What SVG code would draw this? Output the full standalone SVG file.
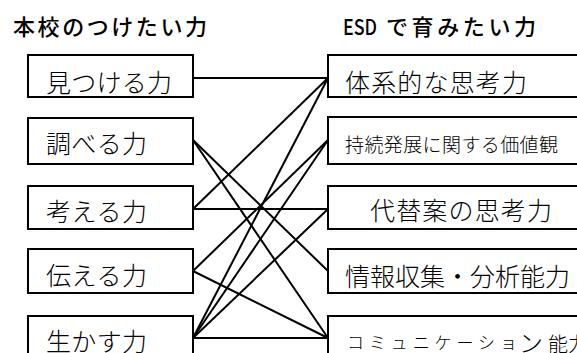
<svg xmlns="http://www.w3.org/2000/svg" width="577" height="353" viewBox="0 0 577 353">
  <style>
    .box { fill: #ffffff; stroke: #000000; stroke-width: 2; }
    .title { font-family: "Noto Sans CJK JP", "Noto Sans", sans-serif; font-size: 22px; font-weight: 500; fill: #000; }
    .lbl { font-family: "Noto Sans CJK JP", "Noto Sans", sans-serif; font-size: 25px; font-weight: 300; fill: #000; }
    .conn line { stroke: #000000; stroke-width: 2; }
  </style>
  <rect width="577" height="353" fill="#ffffff"/>

  <text id="title-left" class="title" x="13" y="35" textLength="194">本校のつけたい力</text>
  <text id="title-right" class="title" y="35"><tspan x="343" textLength="34" lengthAdjust="spacingAndGlyphs">ESD</tspan><tspan x="386" textLength="150">で育みたい力</tspan></text>

  <g id="connectors" class="conn">
    <line x1="193" y1="78" x2="328" y2="78"/>
    <line x1="193" y1="140" x2="328" y2="271"/>
    <line x1="193" y1="140" x2="328" y2="338"/>
    <line x1="193" y1="209" x2="328" y2="78"/>
    <line x1="193" y1="209" x2="328" y2="209"/>
    <line x1="193" y1="271" x2="328" y2="140"/>
    <line x1="193" y1="271" x2="328" y2="338"/>
    <line x1="193" y1="338" x2="328" y2="78"/>
    <line x1="193" y1="338" x2="328" y2="140"/>
    <line x1="193" y1="338" x2="328" y2="209"/>
    <line x1="193" y1="338" x2="328" y2="338"/>
  </g>

  <g id="left-1">
    <rect class="box" x="28" y="55" width="165" height="42"/>
    <text class="lbl" x="46" y="92" textLength="126">見つける力</text>
  </g>
  <g id="left-2">
    <rect class="box" x="28" y="118" width="165" height="46"/>
    <text class="lbl" x="46" y="153" textLength="101">調べる力</text>
  </g>
  <g id="left-3">
    <rect class="box" x="28" y="186" width="165" height="43"/>
    <text class="lbl" x="46" y="221" textLength="101">考える力</text>
  </g>
  <g id="left-4">
    <rect class="box" x="28" y="249" width="165" height="44"/>
    <text class="lbl" x="46" y="285" textLength="101">伝える力</text>
  </g>
  <g id="left-5">
    <rect class="box" x="28" y="316" width="165" height="44"/>
    <text class="lbl" x="46" y="351" textLength="101">生かす力</text>
  </g>

  <g id="right-1">
    <rect class="box" x="328" y="55" width="262" height="42"/>
    <text class="lbl" x="345" y="92" textLength="182">体系的な思考力</text>
  </g>
  <g id="right-2">
    <rect class="box" x="328" y="117" width="262" height="47"/>
    <text class="lbl" x="345" y="152" style="font-size:19px" textLength="213">持続発展に関する価値観</text>
  </g>
  <g id="right-3">
    <rect class="box" x="328" y="186" width="262" height="43"/>
    <text class="lbl" x="370" y="220" textLength="182">代替案の思考力</text>
  </g>
  <g id="right-4">
    <rect class="box" x="328" y="249" width="262" height="44"/>
    <text class="lbl" x="345" y="286">情報収集・分析能力</text>
  </g>
  <g id="right-5">
    <rect class="box" x="328" y="316" width="262" height="44"/>
    <text class="lbl"><tspan x="347" y="349" style="font-size:17px" textLength="170">コミュニケーショ</tspan><tspan x="519" y="352" style="font-size:24px">ン</tspan><tspan x="548" y="352" style="font-size:20px">能力</tspan></text>
  </g>
</svg>
